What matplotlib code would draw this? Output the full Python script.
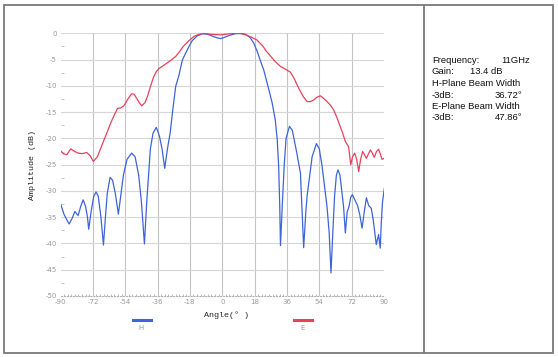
import matplotlib.pyplot as plt
from matplotlib.lines import Line2D
from matplotlib.patches import Rectangle

plt.rcParams["axes.unicode_minus"] = False

# H-sík (kék) és E-sík (piros) iránykarakterisztika
h_angle = [-90, -88, -86.5, -85.2, -83.5, -82, -80.2, -78.8, -77.4, -76, -75, -74.3,
           -73, -71.5, -70.2, -69, -67.5, -66.1, -65, -64, -62.4, -61, -59.5, -57.8,
           -56.5, -55, -53, -50.4, -48.5, -46.5, -45, -43.3, -42, -40, -38.5, -36.7,
           -35, -33.5, -32, -30.5, -29, -27.5, -25.9, -24.1, -22.2, -20.4, -18.5, -16.7,
           -14, -11.1, -8, -5, -2.5, -0.9, 1, 4, 7, 10.2, 13, 15.5, 17.6, 19.5, 21,
           23.1, 25, 26.5, 27.8, 29.5, 30.6, 31.4, 32, 32.4, 33.5, 34.5, 35.5, 37.4,
           39, 41.5, 43.5, 45.3, 46.5, 47.2, 50, 52.4, 54, 55.6, 58.3, 59.5, 60.5,
           61.5, 62.5, 63.5, 64.4, 65.5, 66.5, 67.5, 68.5, 69.5, 70.5, 71.5, 72.4,
           73.5, 75.3, 76.5, 77.8, 79, 80.2, 81.5, 82.9, 84, 85.7, 87, 87.9, 88.5,
           89.2, 90.2]
h_db = [-32.4, -34.5, -35.5, -36.3, -35.2, -33.9, -34.7, -33, -31.7, -33, -35, -37.3,
        -34, -31, -30.2, -31, -35, -40.3, -35, -30.5, -27.4, -28, -30.5, -34.4,
        -31, -27, -24, -22.8, -23.5, -27, -32, -40.1, -32, -22, -19, -17.9,
        -19.5, -22, -25.7, -22, -19, -14.5, -10.1, -8, -5.1, -3.8, -2.5, -1.4,
        -0.5, -0.1, -0.2, -0.6, -0.9, -1.0, -0.8, -0.4, -0.1, 0, -0.2, -0.8, -1.9, -3.5, -5,
        -7, -9.5, -11.5, -13.3, -16.5, -20.3, -25.4, -33, -40.4, -32, -25, -20, -17.7,
        -18.5, -22.8, -26.6, -40.8, -34, -31, -23.5, -21, -22, -25.4, -33, -38, -45.6,
        -38, -31, -27, -26, -27, -30, -33, -38, -34, -33, -31.2, -30.7,
        -31.5, -32.8, -34.5, -37.1, -34, -31.3, -32.8, -33.3, -35.5, -40.2, -38.3, -40.9, -36,
        -32, -29.5]

e_angle = [-90, -88.5, -86.5, -84.3, -82, -80.2, -78, -75.4, -73.5, -71.7, -69.5, -67.5,
           -65.8, -64, -62.1, -60, -58.3, -56.5, -54.7, -52.5, -50.4, -49, -47.6, -46,
           -44.8, -43, -41.7, -40, -38.3, -36.7, -35.2, -33, -30.9, -28.5, -25.9, -23.8,
           -21.7, -18.5, -15.8, -13, -10.2, -6, -0.9, 4, 8.3, 11, 14, 16.5, 19.4, 22.5,
           24.5, 26.8, 29.5, 32.4, 35, 37.9, 40, 42.6, 45, 47.2, 49, 50.9, 52.5, 54.6,
           56.5, 58.3, 60, 62, 64, 65.7, 67, 68.5, 70.3, 71.5, 72.5, 73.7, 74.8, 75.9,
           77, 78.1, 79, 80.2, 81.3, 82.4, 83.5, 84.6, 85.8, 87, 88, 88.9, 90]
e_db = [-22.3, -22.9, -23.1, -22, -22.5, -22.8, -22.9, -22.7, -23.3, -24.4, -23.5, -21.8,
        -20.3, -18.8, -17.1, -15.5, -14.3, -14.2, -13.8, -12.5, -11.5, -11.6, -12.4, -13.3,
        -13.8, -13.2, -12.1, -10.2, -8.4, -7.3, -6.7, -6.2, -5.7, -5.1, -4.4, -3.5,
        -2.5, -1.4, -0.6, -0.2, 0, -0.2, -0.3, -0.1, 0, -0.1, -0.4, -0.8, -1.3, -2.4,
        -3.4, -4.3, -5.4, -6.3, -6.8, -7.4, -8.6, -10.5, -12, -13, -13, -12.7, -12.2, -11.9,
        -12.4, -13, -13.6, -14.6, -16.2, -17.8, -19, -20.6, -21.6, -25, -23.5, -22.8, -24, -26.3,
        -24, -22.5, -23, -23.8, -23, -22.2, -22.8, -23.6, -22.5, -22.1, -23, -24, -23.8]

x_ticks = [-90, -72, -54, -36, -18, 0, 18, 36, 54, 72, 90]
y_ticks = [0, -5, -10, -15, -20, -25, -30, -35, -40, -45, -50]

info_left = ["Frequency:", "Gain:", "H-Plane Beam Width", "-3dB:", "E-Plane Beam Width", "-3dB:"]
info_right = ["11GHz", "13.4 dB", "", "36.72°", "", "47.86°"]

W, H = 558, 357
fig = plt.figure(figsize=(W / 100, H / 100), dpi=100)
ax = fig.add_axes([60.5 / W, 1 - 296 / H, 323.5 / W, 262.7 / H])

blue = "#3f63d8"
red = "#e8405c"
ax.plot(h_angle, h_db, color=blue, lw=0.9)
ax.plot(e_angle, e_db, color=red, lw=0.9)

ax.set_xlim(-90, 90)
ax.set_ylim(-50, 0)
ax.set_xticks(x_ticks)
ax.set_yticks(y_ticks)
ax.set_xticks(range(-90, 91, 2), minor=True)
ax.set_yticks([-2.5 - 5 * i for i in range(10)], minor=True)

for v in x_ticks[1:-1]:
    ax.axvline(v, color="#c4c4c4", lw=0.8, zorder=0)
for v in y_ticks[:-1]:
    ax.axhline(v, color="#d6d6d6", lw=0.8, zorder=0)

for s in ["top", "right", "left"]:
    ax.spines[s].set_visible(False)
ax.spines["bottom"].set_linestyle(":")
ax.spines["bottom"].set_color("#b0b0b0")
ax.spines["bottom"].set_linewidth(0.8)

ax.tick_params(axis="both", which="major", length=0, labelsize=5, labelcolor="#9a9a9a", pad=2.5)
ax.tick_params(axis="x", which="minor", length=1.5, color="#b0b0b0", direction="in")
ax.tick_params(axis="y", which="minor", length=2, color="#b8b8b8", direction="in")

ax.set_xlabel("Angle(° )", family="Liberation Mono", fontsize=6, color="#222222")
ax.xaxis.set_label_coords(0.5 + 4 / 323.5, -15.5 / 262.7)
ax.set_ylabel("Amplitude (dB)", family="Liberation Mono", fontsize=6, color="#222222")
ax.yaxis.set_label_coords(-24 / 323.5, 0.5)

# jelmagyarázat
fig.add_artist(Line2D([133 / W, 151 / W], [1 - 320 / H] * 2, color=blue, lw=2.2))
fig.text(141 / W, 1 - 328 / H, "H", fontsize=5, color="#999999", ha="center", va="center")
fig.add_artist(Line2D([294 / W, 312 / W], [1 - 320 / H] * 2, color=red, lw=2.2))
fig.text(303 / W, 1 - 328 / H, "E", fontsize=5, color="#999999", ha="center", va="center")

# keret és elválasztó
fig.add_artist(Rectangle((4 / W, 1 - 352.5 / H), 549 / W, 347.5 / H, fill=False,
                         edgecolor="#7a7a7a", lw=1.3, transform=fig.transFigure))
fig.add_artist(Line2D([424 / W, 424 / W], [1 - 352.5 / H, 1 - 5 / H], color="#7a7a7a", lw=1.3))

right_x = [530, 503, 0, 522, 0, 522]
for i in range(len(info_left)):
    y = 1 - (60.5 + i * 11.5) / H
    fig.text(432 / W, y, info_left[i], family="Liberation Sans", fontsize=6.8,
             color="#111111", va="center")
    if info_right[i]:
        fig.text(right_x[i] / W, y, info_right[i], family="Liberation Sans", fontsize=6.8,
                 color="#111111", va="center", ha="right")

plt.savefig("out.png")
plt.close()
